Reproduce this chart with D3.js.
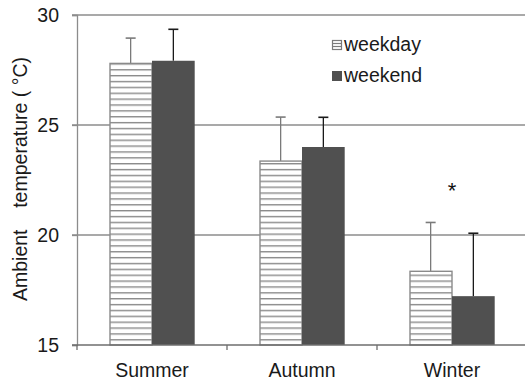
<!DOCTYPE html>
<html>
<head>
<meta charset="utf-8">
<script src="https://cdn.jsdelivr.net/npm/d3@7"></script>
<style>
  html, body { margin: 0; padding: 0; background: #fff; }
  svg { display: block; font-family: Arial, "Liberation Sans", sans-serif; }
</style>
</head>
<body>
<svg id="chart" width="525" height="382"></svg>
<script>
// Seasonal ambient temperature, weekday vs weekend (mean ± SD)
const seasons = ["Summer", "Autumn", "Winter"];
const seriesNames = ["weekday", "weekend"];
const weekdayMean = [27.8, 23.36, 18.35];
const weekdaySD   = [1.15, 2.0, 2.22];
const weekendMean = [27.92, 24.0, 17.22];
const weekendSD   = [1.43, 1.35, 2.86];
const yTicks = [15, 20, 25, 30];
const significant = ["Winter"];

const FONT = 19.5;
const svg = d3.select("#chart");
const margin = { left: 77, top: 15, right: -2, bottom: 37 };
const W = 525, H = 382;

const x = d3.scaleBand().domain(seasons)
  .range([margin.left, W - margin.right]).padding(0);
const y = d3.scaleLinear().domain([15, 30]).range([H - margin.bottom, margin.top]);

// horizontal stripe pattern for weekday bars
const defs = svg.append("defs");
const pat = defs.append("pattern").attr("id", "stripes")
  .attr("patternUnits", "userSpaceOnUse").attr("width", 8).attr("height", 5.87)
  .attr("y", y(15));
pat.append("rect").attr("width", 8).attr("height", 5.87).attr("fill", "#fff");
pat.append("rect").attr("y", 0).attr("width", 8).attr("height", 1.4).attr("fill", "#8a8a8a");

// gridlines
svg.append("g").selectAll("line").data(yTicks.filter(d => d > 15)).join("line")
  .attr("x1", margin.left - 5).attr("x2", W)
  .attr("y1", d => y(d)).attr("y2", d => y(d))
  .attr("stroke", "#8c8c8c").attr("stroke-width", 1.3);

// y axis
const yAxis = svg.append("g").attr("transform", `translate(${margin.left},0)`)
  .call(d3.axisLeft(y).tickValues(yTicks).tickSize(5).tickPadding(13));
yAxis.select(".domain").attr("stroke", "#8c8c8c").attr("stroke-width", 1.3);
yAxis.selectAll(".tick line").attr("stroke", "#8c8c8c").attr("stroke-width", 1.3);
yAxis.selectAll("text").attr("font-size", FONT).attr("fill", "#1a1a1a")
  .attr("font-family", "Arial, 'Liberation Sans', sans-serif");

// bars
const groups = svg.append("g").selectAll("g").data(seasons).join("g")
  .attr("transform", d => `translate(${x(d)},0)`);

const barW = 42.7;
const groupOff = (x.bandwidth() - 2 * barW) / 2;

groups.each(function(s, i) {
  const g = d3.select(this);
  const vals = [
    { name: "weekday", mean: weekdayMean[i], sd: weekdaySD[i] },
    { name: "weekend", mean: weekendMean[i], sd: weekendSD[i] }
  ];
  vals.forEach((v, j) => {
    const bx = groupOff + j * barW;
    const cx = bx + barW / 2;
    // error bar (upper only)
    const ec = v.name === "weekday" ? "#7a7a7a" : "#1a1a1a";
    g.append("line").attr("x1", cx).attr("x2", cx)
      .attr("y1", y(v.mean)).attr("y2", y(v.mean + v.sd))
      .attr("stroke", ec).attr("stroke-width", 1.3);
    g.append("line").attr("x1", cx - 5).attr("x2", cx + 5)
      .attr("y1", y(v.mean + v.sd)).attr("y2", y(v.mean + v.sd))
      .attr("stroke", ec).attr("stroke-width", 1.6);
    if (v.name === "weekday") {
      g.append("rect").attr("x", bx + 0.7).attr("y", y(v.mean))
        .attr("width", barW - 0.7).attr("height", y(15) - y(v.mean))
        .attr("fill", "url(#stripes)").attr("stroke", "#8a8a8a").attr("stroke-width", 1.4);
    } else {
      g.append("rect").attr("x", bx).attr("y", y(v.mean))
        .attr("width", barW).attr("height", y(15) - y(v.mean))
        .attr("fill", "#505050");
    }
  });
  if (significant.includes(s)) {
    const top = Math.max(vals[0].mean + vals[0].sd, vals[1].mean + vals[1].sd);
    g.append("text").attr("x", groupOff + barW).attr("y", y(top) - 24)
      .attr("text-anchor", "middle").attr("font-size", 22).attr("fill", "#111")
      .text("*");
  }
});

// x axis
const xAxis = svg.append("g").attr("transform", `translate(0,${y(15)})`);
xAxis.append("line").attr("x1", margin.left - 5).attr("x2", W)
  .attr("y1", 0).attr("y2", 0).attr("stroke", "#6e6e6e").attr("stroke-width", 1.6);
xAxis.selectAll("line.tk").data(seasons.map(s => x(s)).concat([x(seasons[2]) + x.bandwidth()]))
  .join("line").attr("class", "tk")
  .attr("x1", d => d).attr("x2", d => d).attr("y1", 0).attr("y2", 5)
  .attr("stroke", "#6e6e6e").attr("stroke-width", 1.3);
xAxis.selectAll("text").data(seasons).join("text")
  .attr("x", d => x(d) + x.bandwidth() / 2).attr("y", 32)
  .attr("text-anchor", "middle").attr("font-size", FONT).attr("fill", "#1a1a1a")
  .text(d => d);

// y label
svg.append("text")
  .attr("transform", "translate(27,179) rotate(-90)")
  .attr("text-anchor", "middle").attr("font-size", FONT).attr("fill", "#1a1a1a")
  .style("white-space", "pre")
  .text("Ambient    temperature ( °C)");

// legend
const legend = svg.append("g").attr("transform", "translate(332,35)");
const leg = legend.selectAll("g").data(seriesNames).join("g")
  .attr("transform", (d, i) => `translate(0,${i * 31})`);
leg.each(function(d) {
  const g = d3.select(this);
  if (d === "weekday") {
    g.append("rect").attr("x", 0.5).attr("y", 5.5).attr("width", 9).attr("height", 9)
      .attr("fill", "#fff").attr("stroke", "#7a7a7a").attr("stroke-width", 1.2);
    [8.5, 11.5].forEach(yy => g.append("line").attr("x1", 0.5).attr("x2", 9.5)
      .attr("y1", yy).attr("y2", yy).attr("stroke", "#7a7a7a").attr("stroke-width", 1.2));
  } else {
    g.append("rect").attr("x", 0).attr("y", 5).attr("width", 10).attr("height", 10)
      .attr("fill", "#505050");
  }
  g.append("text").attr("x", 12).attr("y", 16).attr("font-size", FONT)
    .attr("fill", "#1a1a1a").text(d);
});
</script>
</body>
</html>
